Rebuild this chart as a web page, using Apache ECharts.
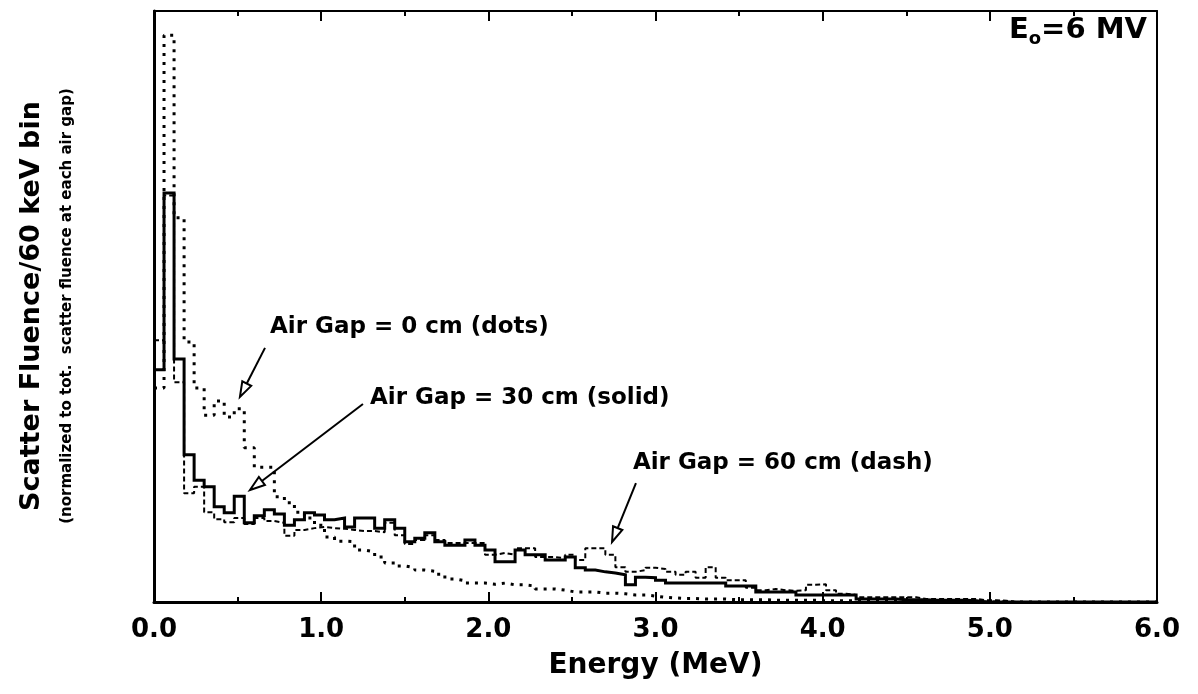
<!DOCTYPE html>
<html>
<head>
<meta charset="utf-8">
<script src="https://cdn.jsdelivr.net/npm/echarts@6/dist/echarts.min.js"></script>
<style>
  html, body { margin: 0; padding: 0; background: #fff; }
  #chart { width: 1198px; height: 694px; }
</style>
</head>
<body>
<div id="chart"></div>
<script>
// Scatter photon spectra, 60 keV bins from 0 to 6 MeV (arbitrary units, normalized per air gap)
const BIN_WIDTH = 0.06;
const xTickValues = [0, 1, 2, 3, 4, 5, 6];

// Air gap = 0 cm (dotted)
const gap0cm = [
  36.2, 95.9, 65.0, 44.0, 36.2, 31.6, 34.0, 31.3, 32.7, 26.1,
  22.8, 22.8, 17.8, 16.8, 15.2, 14.2, 13.0, 11.0, 10.3, 10.2,
  8.8, 8.5, 7.6, 6.6, 6.1, 5.8, 5.4, 5.2, 4.7, 3.9,
  3.6, 3.2, 3.2, 3.0, 3.2, 2.9, 2.9, 2.7, 2.2, 2.2,
  2.0, 1.7, 1.7, 1.7, 1.5, 1.5, 1.4, 1.2, 1.2, 1.0,
  0.8, 0.7, 0.6, 0.6, 0.5, 0.5, 0.5, 0.4, 0.4, 0.4,
  0.4, 0.3, 0.3, 0.3, 0.3, 0.3, 0.2, 0.2, 0.2, 0.2,
  0.2, 0.2, 0.1, 0.1, 0.1, 0.1, 0.1, 0.1, 0.1, 0.1,
  0, 0, 0, 0, 0, 0, 0, 0, 0, 0,
  0, 0, 0, 0, 0, 0, 0, 0, 0, 0
];

// Air gap = 30 cm (solid)
const gap30cm = [
  39.3, 69.2, 41.1, 24.9, 20.6, 19.5, 16.1, 15.1, 17.9, 13.4,
  14.6, 15.6, 14.9, 13.0, 13.9, 15.1, 14.7, 13.9, 14.2, 12.7,
  14.2, 14.2, 12.5, 13.9, 12.5, 10.2, 10.8, 11.7, 10.2, 9.6,
  9.6, 10.5, 9.6, 8.8, 6.8, 6.8, 8.8, 8.0, 8.0, 7.1,
  7.1, 7.6, 5.8, 5.4, 5.1, 4.9, 4.6, 2.9, 4.2, 4.1,
  3.7, 3.2, 3.2, 3.2, 3.2, 3.2, 3.2, 2.7, 2.7, 2.7,
  1.7, 1.7, 1.7, 1.7, 1.2, 1.2, 1.2, 1.2, 1.2, 1.2,
  0.5, 0.5, 0.5, 0.5, 0.4, 0.4, 0.4, 0.3, 0.3, 0.3,
  0.3, 0.2, 0, 0, 0, 0, 0, 0, 0, 0,
  0, 0, 0, 0, 0, 0, 0, 0, 0, 0
];

// Air gap = 60 cm (dashed)
const gap60cm = [
  44.3, 68.8, 37.2, 18.4, 19.5, 15.2, 14.0, 13.5, 14.2, 13.2,
  14.2, 13.7, 13.4, 11.2, 12.2, 12.5, 12.7, 12.5, 12.4, 12.2,
  12.0, 12.0, 11.8, 13.4, 11.3, 9.8, 10.5, 11.3, 10.5, 10.0,
  10.0, 10.0, 10.0, 8.0, 8.3, 8.0, 9.1, 9.1, 7.6, 7.6,
  7.4, 8.0, 7.1, 9.1, 9.1, 8.0, 5.9, 5.1, 5.4, 5.8,
  5.6, 5.1, 4.6, 5.1, 4.1, 5.9, 4.1, 3.7, 3.7, 2.4,
  2.0, 2.2, 2.0, 1.9, 2.0, 2.9, 3.0, 2.0, 1.4, 1.2,
  0.8, 0.8, 0.8, 0.8, 0.8, 0.8, 0.5, 0.5, 0.5, 0.5,
  0.5, 0.5, 0.3, 0.3, 0.2, 0, 0, 0, 0, 0,
  0, 0, 0, 0, 0, 0, 0, 0, 0, 0
];

const FONT = '"DejaVu Sans", "Liberation Sans", sans-serif';

// Histogram outline: one point per bin start, plus the closing edge at the last bin end
function histogramPoints(values) {
  const pts = values.map((v, i) => [+(i * BIN_WIDTH).toFixed(2), v]);
  pts.push([+(values.length * BIN_WIDTH).toFixed(2), values[values.length - 1]]);
  return pts;
}

const chart = echarts.init(document.getElementById('chart'), null, { renderer: 'canvas' });

const xMin = xTickValues[0];
const xMax = xTickValues[xTickValues.length - 1];

const tickStyle = { color: '#000', width: 2 };

chart.setOption({
  animation: false,
  backgroundColor: '#fff',
  grid: {
    left: 154, right: 41, top: 11, bottom: 92,
    containLabel: false,
    outerBoundsMode: 'none'
  },
  xAxis: [
    {
      type: 'value', min: xMin, max: xMax, interval: 1, position: 'bottom',
      axisLine: { show: true, onZero: false, lineStyle: { color: '#000', width: 3 } },
      axisTick: { show: true, inside: true, length: 10, lineStyle: tickStyle },
      minorTick: { show: true, splitNumber: 2, length: 5, lineStyle: tickStyle },
      splitLine: { show: false },
      minorSplitLine: { show: false },
      axisLabel: {
        show: true, showMinLabel: true, showMaxLabel: true,
        formatter: v => v.toFixed(1),
        color: '#000', fontSize: 26, fontWeight: 'bold', fontFamily: FONT, margin: 15
      },
      name: 'Energy (MeV)', nameLocation: 'middle', nameGap: 50,
      nameTextStyle: { color: '#000', fontSize: 28, fontWeight: 'bold', fontFamily: FONT }
    },
    {
      type: 'value', min: xMin, max: xMax, interval: 1, position: 'top',
      axisLine: { show: true, onZero: false, lineStyle: { color: '#000', width: 2 } },
      axisTick: { show: true, inside: true, length: 10, lineStyle: tickStyle },
      minorTick: { show: true, splitNumber: 2, length: 5, lineStyle: tickStyle },
      splitLine: { show: false },
      axisLabel: { show: false }
    }
  ],
  yAxis: [
    {
      type: 'value', min: 0, max: 100, position: 'left',
      axisLine: { show: true, onZero: false, lineStyle: { color: '#000', width: 3 } },
      axisTick: { show: false }, axisLabel: { show: false }, splitLine: { show: false }
    },
    {
      type: 'value', min: 0, max: 100, position: 'right',
      axisLine: { show: true, onZero: false, lineStyle: { color: '#000', width: 2 } },
      axisTick: { show: false }, axisLabel: { show: false }, splitLine: { show: false }
    }
  ],
  series: [
    {
      name: 'Air Gap = 0 cm', type: 'line', step: 'end', xAxisIndex: 0, yAxisIndex: 0,
      data: histogramPoints(gap0cm), showSymbol: false, symbol: 'none', z: 2,
      lineStyle: { color: '#000', width: 3, type: [3, 6], cap: 'butt' }
    },
    {
      name: 'Air Gap = 60 cm', type: 'line', step: 'end', xAxisIndex: 0, yAxisIndex: 0,
      data: histogramPoints(gap60cm), showSymbol: false, symbol: 'none', z: 3,
      lineStyle: { color: '#000', width: 2, type: [5, 3], cap: 'butt' }
    },
    {
      name: 'Air Gap = 30 cm', type: 'line', step: 'end', xAxisIndex: 0, yAxisIndex: 0,
      data: histogramPoints(gap30cm), showSymbol: false, symbol: 'none', z: 4,
      lineStyle: { color: '#000', width: 3, type: 'solid', join: 'miter' }
    }
  ]
});

// Annotation callouts, placed in data coordinates
const callouts = [
  { text: 'Air Gap = 0 cm (dots)',   at: [0.694, 46.5], tail: [0.664, 43.0], tip: [0.514, 34.7] },
  { text: 'Air Gap = 30 cm (solid)', at: [1.292, 34.5], tail: [1.250, 33.5], tip: [0.574, 18.95] },
  { text: 'Air Gap = 60 cm (dash)',  at: [2.865, 23.5], tail: [2.883, 20.1], tip: [2.740, 10.15] }
];

function px(p) { return chart.convertToPixel({ xAxisIndex: 0, yAxisIndex: 0 }, p); }

function arrowElements(tail, tip) {
  const a = px(tail), b = px(tip);
  const dx = b[0] - a[0], dy = b[1] - a[1];
  const len = Math.hypot(dx, dy), ux = dx / len, uy = dy / len;
  const L = 15, W = 5;
  const bx = b[0] - ux * L, by = b[1] - uy * L;
  return [
    { type: 'line', z: 10, shape: { x1: a[0], y1: a[1], x2: bx, y2: by },
      style: { stroke: '#000', lineWidth: 2 } },
    { type: 'polygon', z: 11,
      shape: { points: [[b[0], b[1]], [bx - uy * W, by + ux * W], [bx + uy * W, by - ux * W]] },
      style: { fill: '#fff', stroke: '#000', lineWidth: 2 } }
  ];
}

const graphics = [];
callouts.forEach(c => {
  const p = px(c.at);
  graphics.push({
    type: 'text', x: p[0], y: p[1], z: 12,
    style: {
      text: c.text, fill: '#000', font: 'bold 23px ' + FONT,
      align: 'left', verticalAlign: 'middle', textAlign: 'left', textVerticalAlign: 'middle'
    }
  });
  graphics.push(...arrowElements(c.tail, c.tip));
});

// Y axis title, two lines
graphics.push({
  type: 'text', x: 32, y: 306, rotation: Math.PI / 2, z: 12,
  style: {
    text: 'Scatter Fluence/60 keV bin', fill: '#000', font: 'bold 27px ' + FONT,
    align: 'center', verticalAlign: 'middle', textAlign: 'center', textVerticalAlign: 'middle'
  }
});
graphics.push({
  type: 'text', x: 67, y: 306, rotation: Math.PI / 2, z: 12,
  style: {
    text: '(normalized to tot.  scatter fluence at each air gap)', fill: '#000', font: 'bold 15px ' + FONT,
    align: 'center', verticalAlign: 'middle', textAlign: 'center', textVerticalAlign: 'middle'
  }
});

// Beam energy tag in the upper right corner
graphics.push({
  type: 'text', x: 1147, y: 30, z: 12,
  style: {
    text: '{e|E}{s|o}{e|=6 MV}',
    align: 'right', verticalAlign: 'middle', textAlign: 'right', textVerticalAlign: 'middle',
    rich: {
      e: { fontSize: 29, fontWeight: 'bold', fontFamily: FONT, fill: '#000', color: '#000', lineHeight: 36, verticalAlign: 'middle' },
      s: { fontSize: 18, fontWeight: 'bold', fontFamily: FONT, fill: '#000', color: '#000', lineHeight: 15, verticalAlign: 'bottom' }
    }
  }
});

chart.setOption({ graphic: graphics });
</script>
</body>
</html>
